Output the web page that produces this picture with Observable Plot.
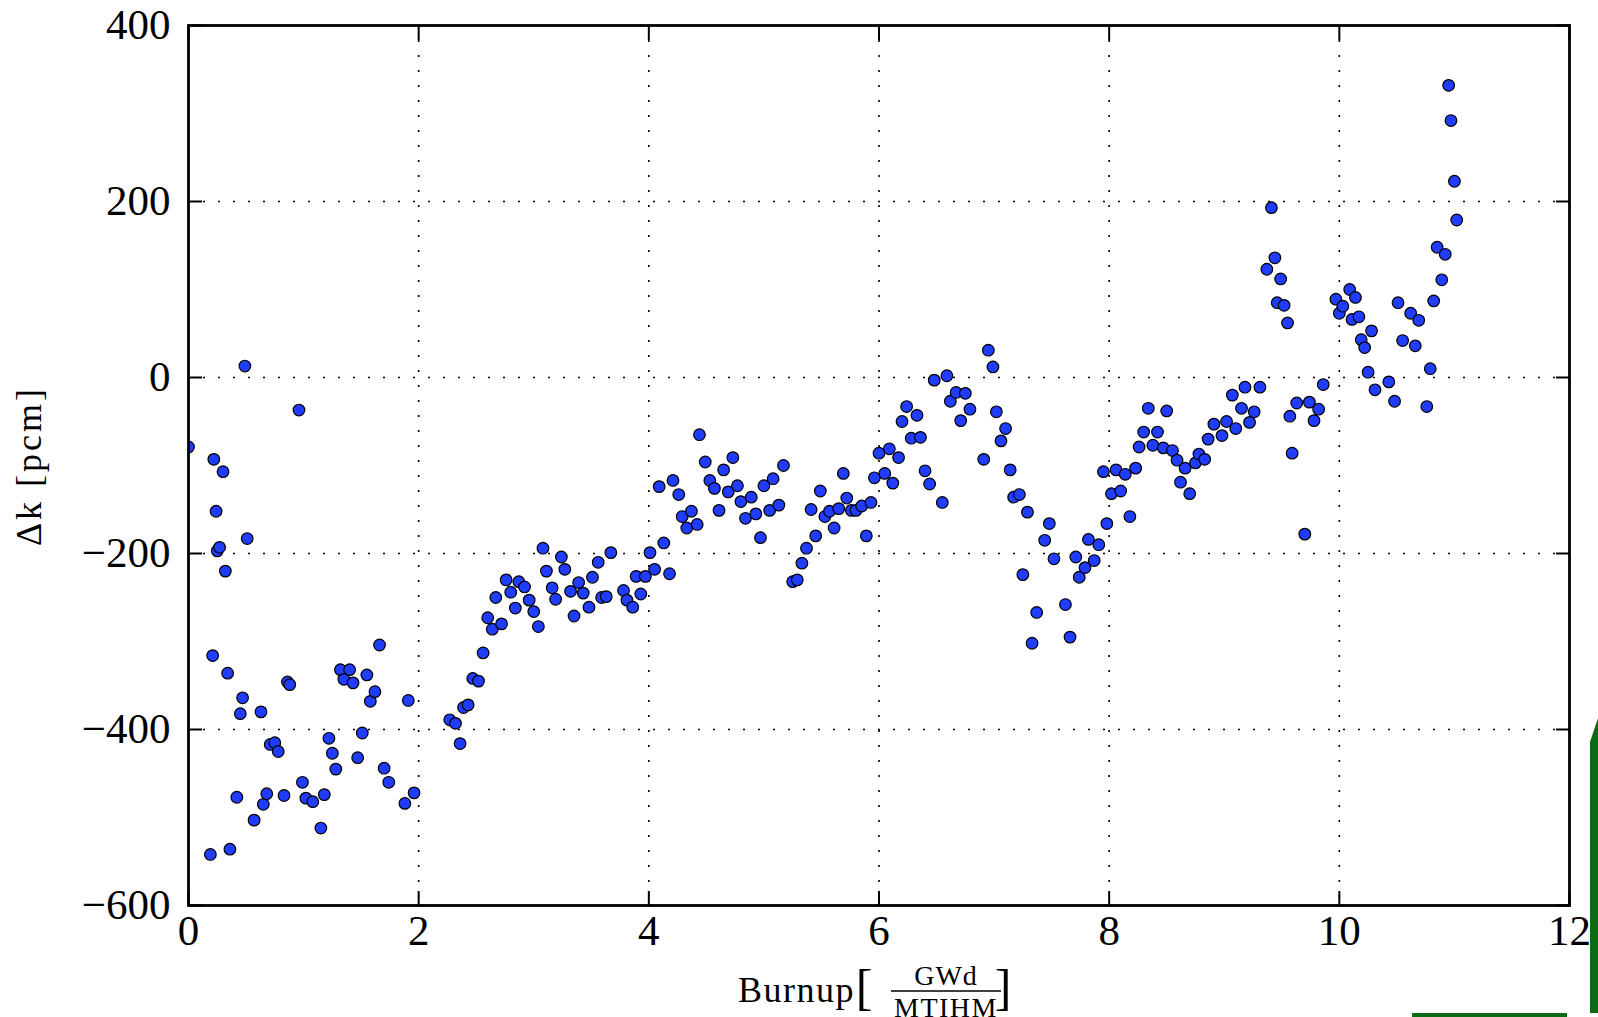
<!DOCTYPE html>
<html><head><meta charset="utf-8">
<script src="https://cdn.jsdelivr.net/npm/d3@7"></script>
<script src="https://cdn.jsdelivr.net/npm/@observablehq/plot@0.6"></script>
<style>
html,body{margin:0;padding:0;background:#fff;}
#wrap{position:relative;width:1598px;height:1017px;overflow:hidden;background:#fff;}
#green{position:absolute;left:1590px;top:718px;width:8px;height:295px;background:#0b6b12;clip-path:polygon(0 24px,100% 0,100% 100%,0 100%);}
#greenb{position:absolute;left:1412px;top:1013px;width:155px;height:4px;background:#0b6b12;}
</style></head><body><div id="wrap"><div id="chart"></div><div id="green"></div><div id="greenb"></div></div>
<script>
const burnup = [
0.00,0.19,0.21,0.22,0.24,0.25,0.27,0.30,0.32,0.34,0.36,0.42,0.45,0.47,0.49,0.51,0.57,0.63,0.65,0.68,
0.71,0.75,0.78,0.83,0.86,0.88,0.96,0.99,1.02,1.08,1.15,1.18,1.22,1.25,1.28,1.32,1.35,1.40,1.43,1.47,
1.51,1.55,1.58,1.62,1.66,1.70,1.74,1.88,1.91,1.96,
2.27,2.32,2.36,2.39,2.43,2.47,2.52,2.56,2.60,2.64,2.67,2.72,2.76,2.80,2.84,2.87,2.92,2.96,3.00,3.04,
3.08,3.11,3.16,3.19,3.24,3.27,3.32,3.35,3.39,3.43,3.48,3.51,3.56,3.59,3.63,3.67,3.78,3.81,3.86,3.89,
3.93,3.97,4.01,4.05,
4.09,4.13,4.18,4.21,4.26,4.29,4.33,4.37,4.42,4.44,4.49,4.53,4.57,4.61,4.65,4.69,4.73,4.77,4.80,4.84,
4.89,4.93,4.97,5.00,5.05,5.08,5.13,5.17,5.25,5.29,5.33,5.37,5.41,5.45,5.49,5.53,5.57,5.61,5.65,5.69,
5.72,5.76,5.80,5.85,5.89,5.93,5.96,
6.00,6.05,6.09,6.12,6.17,6.20,6.24,6.28,6.33,6.36,6.40,6.44,6.48,6.55,6.59,6.62,6.67,6.71,6.75,6.79,
6.91,6.95,6.99,7.02,7.06,7.10,7.14,7.17,7.22,7.25,7.29,7.33,7.37,7.44,7.48,7.52,7.62,7.66,7.71,7.74,
7.79,7.82,7.87,7.91,7.95,7.98,
8.02,8.06,8.10,8.14,8.18,8.23,8.26,8.30,8.34,8.38,8.42,8.47,8.50,8.55,8.59,8.62,8.66,8.70,8.75,8.78,
8.83,8.86,8.91,8.98,9.02,9.07,9.10,9.15,9.18,9.22,9.26,9.31,9.37,9.41,9.44,9.46,9.49,9.52,9.55,9.57,
9.59,9.63,9.70,9.74,9.78,9.82,9.86,9.97,
10.00,10.03,10.09,10.11,10.14,10.17,10.19,10.22,10.25,10.28,10.31,10.43,10.48,10.51,10.55,10.62,10.66,10.69,10.76,10.79,
10.82,10.85,10.89,10.92,10.95,10.97,11.00,11.02
];
const deltaK = [
-79,-542,-316,-93,-152,-197,-193,-107,-220,-336,-536,-477,-382,-364,13,-183,-503,-380,-485,-473,
-417,-415,-425,-475,-346,-349,-37,-460,-478,-482,-512,-474,-410,-427,-445,-332,-343,-332,-347,-432,
-404,-338,-368,-357,-304,-444,-460,-484,-367,-472,
-389,-393,-416,-375,-372,-342,-345,-313,-273,-286,-250,-280,-230,-244,-262,-232,-238,-253,-266,-283,
-194,-220,-239,-252,-204,-218,-243,-271,-233,-245,-261,-227,-210,-250,-249,-199,-242,-253,-261,-226,
-246,-226,-199,-218,
-124,-188,-223,-117,-133,-158,-171,-152,-167,-65,-96,-117,-126,-151,-105,-130,-91,-123,-141,-160,
-136,-155,-182,-123,-151,-115,-145,-100,-232,-230,-211,-194,-150,-180,-129,-158,-152,-171,-149,-109,
-137,-151,-151,-146,-180,-142,-114,
-86,-109,-81,-120,-91,-50,-33,-69,-43,-68,-106,-121,-3,-142,2,-27,-17,-49,-18,-36,
-93,31,12,-39,-72,-58,-105,-136,-133,-224,-153,-302,-267,-185,-166,-206,-258,-295,-204,-227,
-216,-184,-208,-190,-107,-166,
-132,-105,-129,-110,-158,-103,-79,-62,-35,-77,-62,-80,-38,-83,-94,-119,-103,-132,-97,-87,
-93,-70,-53,-66,-50,-20,-58,-35,-11,-51,-39,-11,123,193,136,85,112,82,62,-44,
-86,-29,-178,-28,-49,-36,-8,89,
73,81,100,66,91,69,43,34,6,53,-14,-5,-27,85,42,73,36,65,-33,10,
87,148,111,140,332,292,223,179
];
const xTicks = [0, 2, 4, 6, 8, 10, 12];
const xTickLabels = ["0", "2", "4", "6", "8", "10", "12"];
const yTicks = [-600, -400, -200, 0, 200, 400];
const yTickLabels = ["\u2212600", "\u2212400", "\u2212200", "0", "200", "400"];
const xLabelWord = "Burnup";
const xLabelNum = "GWd";
const xLabelDen = "MTIHM";
const yLabel = "\u0394k [pcm]";

const points = burnup.map((b, i) => ({burnup: b, dk: deltaK[i]}));
const serif = "'Liberation Serif', 'DejaVu Serif', serif";
const grid = {stroke: "#000", strokeOpacity: 1, strokeWidth: 1.6, strokeDasharray: "2,13"};
const tickStyle = {tickSize: -14, stroke: "#000", strokeWidth: 2, fill: "none", label: null};

const chart = Plot.plot({
  width: 1598, height: 1017,
  marginLeft: 188, marginRight: 29, marginTop: 25, marginBottom: 112,
  style: {fontFamily: serif, background: "transparent", color: "#000"},
  x: {domain: [0, 12], ticks: xTicks, label: null},
  y: {domain: [-600, 400], ticks: yTicks, label: null},
  marks: [
    Plot.gridX(xTicks.slice(1, -1), grid),
    Plot.gridY(yTicks.slice(1, -1), grid),
    Plot.dot(points, {x: "burnup", y: "dk", r: 5.8, fill: "#1f3cff", stroke: "#000", strokeWidth: 1.2, clip: true}),
    Plot.frame({stroke: "#000", strokeWidth: 2.8}),
    Plot.axisX(xTicks, {anchor: "bottom", ...tickStyle}),
    Plot.axisX(xTicks, {anchor: "top", ...tickStyle}),
    Plot.axisY(yTicks, {anchor: "left", ...tickStyle}),
    Plot.axisY(yTicks, {anchor: "right", ...tickStyle}),
    Plot.axisX(xTicks, {anchor: "bottom", tickSize: 0, tickPadding: 9, fontSize: 43, label: null, fill: "#000",
      tickFormat: d => xTickLabels[xTicks.indexOf(d)]}),
    Plot.axisY(yTicks, {anchor: "left", tickSize: 0, tickPadding: 18, fontSize: 43, label: null, fill: "#000",
      tickFormat: d => yTickLabels[yTicks.indexOf(d)]})
  ]
});
document.getElementById("chart").appendChild(chart);

const svg = d3.select(chart);
const g = svg.append("g").attr("font-family", serif).attr("fill", "#000");
g.append("text").attr("x", 855).attr("y", 1002).attr("text-anchor", "end")
  .attr("font-size", 36).attr("letter-spacing", 1.5).text(xLabelWord);
g.append("text").attr("x", 864).attr("y", 1004).attr("font-size", 50).text("[");
g.append("text").attr("x", 946).attr("y", 985).attr("text-anchor", "middle")
  .attr("font-size", 28).attr("letter-spacing", 1).text(xLabelNum);
g.append("line").attr("x1", 891).attr("x2", 1001).attr("y1", 991).attr("y2", 991)
  .attr("stroke", "#000").attr("stroke-width", 1.6);
g.append("text").attr("x", 946).attr("y", 1017).attr("text-anchor", "middle")
  .attr("font-size", 28).attr("letter-spacing", 1.5).text(xLabelDen);
g.append("text").attr("x", 1003).attr("y", 1004).attr("font-size", 50).text("]");
g.append("text").attr("transform", "translate(41,466) rotate(-90)").attr("text-anchor", "middle")
  .attr("font-size", 36).attr("letter-spacing", 3).text(yLabel);
</script></body></html>
